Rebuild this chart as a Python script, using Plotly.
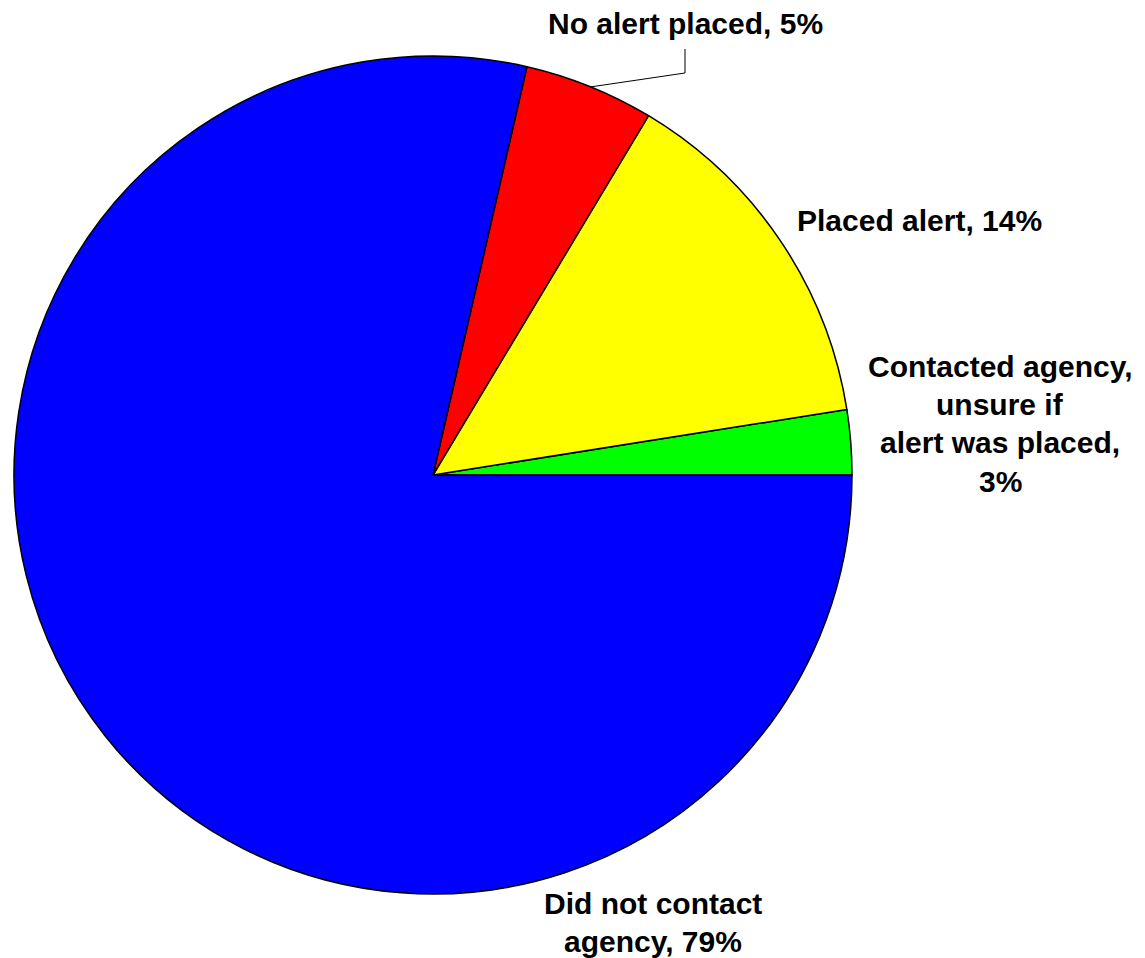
import plotly.graph_objects as go

labels = ["Contacted agency, unsure if alert was placed", "Placed alert", "No alert placed", "Did not contact agency"]
values = [2.5, 13.9, 5.0, 78.6]
colors = ["#00FF00", "#FFFF00", "#FF0000", "#0000FF"]
label_texts = [
    "Contacted agency,<br>unsure if<br>alert was placed,<br>3%",
    "Placed alert, 14%",
    "No alert placed, 5%",
    "Did not contact<br>agency, 79%",
]
W, H = 1145, 958
OFF = 8  # page body margin
cx, cy, r = 433 - OFF, 475 - OFF, 419


def px(x, y):
    return (x - OFF) / W, 1 - (y - OFF) / H


fig = go.Figure(go.Pie(
    labels=labels, values=values, sort=False, direction="counterclockwise",
    rotation=90 - values[0] / sum(values) * 360, textinfo="none", hoverinfo="label+percent",
    marker=dict(colors=colors, line=dict(color="black", width=1.5)),
    domain=dict(x=[(cx - r) / W, (cx + r) / W], y=[(H - cy - r) / H, (H - cy + r) / H]),
    showlegend=False,
))

# (center x, first-line center y, line spacing)
label_pos = [(1000, 366, 38.5), (919, 220, 0), (685, 23.5, 0), (653, 903, 38.5)]
font = dict(family="Liberation Sans, Arial, sans-serif", size=30, color="black")
for t, (x, y, dy) in zip(label_texts, label_pos):
    for i, line in enumerate(t.split("<br>")):
        ax, ay = px(x, y + i * dy)
        fig.add_annotation(x=ax, y=ay, xref="paper", yref="paper", text="<b>" + line + "</b>",
                           showarrow=False, font=font, align="center", xanchor="center", yanchor="middle")

# leader line for "No alert placed"
pts = [(590, 87), (685, 73), (685, 49)]
path = "M " + " L ".join("{},{}".format(*px(x, y)) for x, y in pts)
fig.add_shape(type="path", path=path, xref="paper", yref="paper", line=dict(color="black", width=1))

fig.update_layout(width=W, height=H, margin=dict(l=0, r=0, t=0, b=0),
                  paper_bgcolor="white", plot_bgcolor="white")
fig.write_html("out.html")
